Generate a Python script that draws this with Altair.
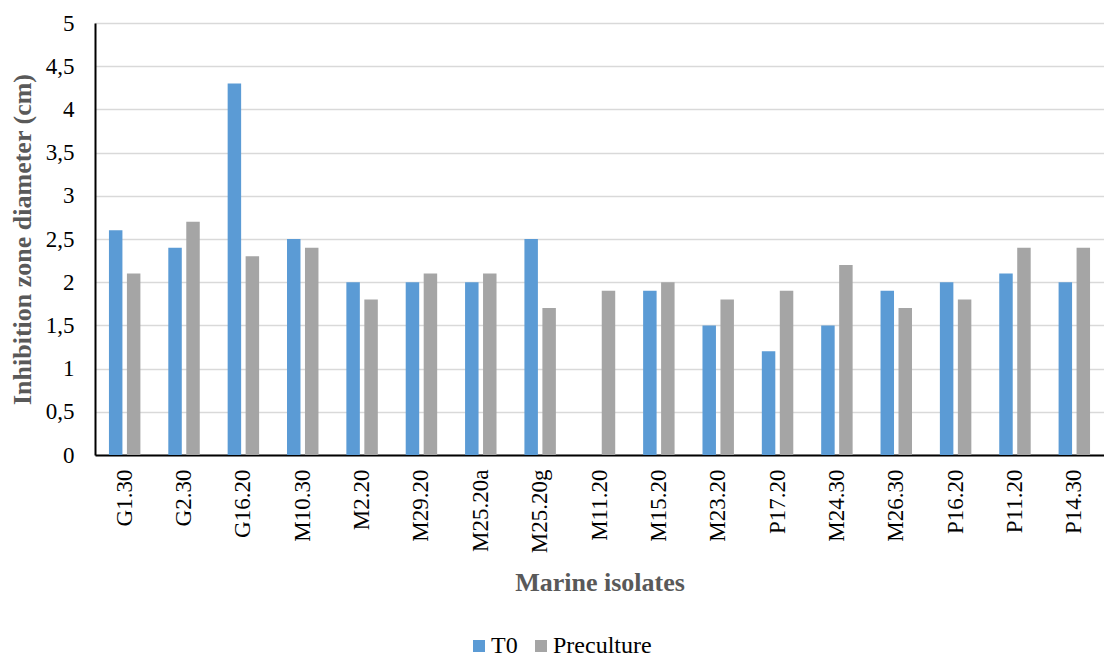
import altair as alt
import pandas as pd

isolates = ["G1.30", "G2.30", "G16.20", "M10.30", "M2.20", "M29.20", "M25.20a",
            "M25.20g", "M11.20", "M15.20", "M23.20", "P17.20", "M24.30", "M26.30",
            "P16.20", "P11.20", "P14.30"]
t0 = [2.6, 2.4, 4.3, 2.5, 2.0, 2.0, 2.0, 2.5, 0.0, 1.9, 1.5, 1.2, 1.5, 1.9, 2.0, 2.1, 2.0]
preculture = [2.1, 2.7, 2.3, 2.4, 1.8, 2.1, 2.1, 1.7, 1.9, 2.0, 1.8, 1.9, 2.2, 1.7, 1.8, 2.4, 2.4]
series = ["T0", "Preculture"]
colors = ["#5B9BD5", "#A5A5A5"]
y_ticks = [0, 0.5, 1, 1.5, 2, 2.5, 3, 3.5, 4, 4.5, 5]

rows = []
for i, name in enumerate(isolates):
    rows.append({"isolate": name, "series": "T0", "value": t0[i]})
    rows.append({"isolate": name, "series": "Preculture", "value": preculture[i]})
df = pd.DataFrame(rows)

FONT = "Liberation Serif"

chart = alt.Chart(df).mark_bar().encode(
    x=alt.X("isolate:N", sort=isolates,
            scale=alt.Scale(paddingInner=0.47, paddingOuter=0.235),
            axis=alt.Axis(title="Marine isolates", labelAngle=270, labelAlign="right",
                          labelBaseline="middle", labelPadding=14, ticks=False,
                          labelFontSize=23, labelColor="#000000", labelFont=FONT,
                          titleFont=FONT, titleFontSize=26, titleFontWeight="bold",
                          titleColor="#595959", titleY=135, titleBaseline="alphabetic",
                          domainColor="#000000", domainWidth=2)),
    xOffset=alt.XOffset("series:N", sort=series,
                        scale=alt.Scale(paddingInner=0.25, paddingOuter=0)),
    y=alt.Y("value:Q", scale=alt.Scale(domain=[0, 5], nice=False),
            axis=alt.Axis(title="Inhibition zone diameter (cm)", values=y_ticks,
                          labelExpr="replace(toString(datum.value), '.', ',')",
                          ticks=False, labelPadding=21, labelFontSize=23,
                          labelColor="#000000", labelFont=FONT,
                          titleFont=FONT, titleFontSize=26, titleFontWeight="bold",
                          titleColor="#595959", titleX=-73, titleY=216,
                          titleAngle=-90, titleBaseline="middle", titleAlign="center",
                          grid=True, gridColor="#D9D9D9", gridWidth=1.5,
                          domainColor="#000000", domainWidth=2)),
    color=alt.Color("series:N", sort=series,
                    scale=alt.Scale(domain=series, range=colors),
                    legend=alt.Legend(title=None, orient="none", direction="horizontal",
                                      legendX=372, legendY=611, symbolType="square",
                                      symbolSize=144, labelFontSize=24, labelFont=FONT,
                                      labelColor="#000000", labelOffset=0,
                                      columnPadding=11, symbolStrokeWidth=0,
                                      padding=0)),
).properties(
    width=1009, height=432,
    autosize=alt.AutoSizeParams(type="none"),
    padding={"left": 95, "top": 23, "right": 0, "bottom": 204},
).configure_view(stroke=None).configure(background="white", font=FONT).configure_legend(
    labelFont=FONT, labelFontSize=24
)

chart.save("out.html", embed_options={"renderer": "svg", "actions": False})
